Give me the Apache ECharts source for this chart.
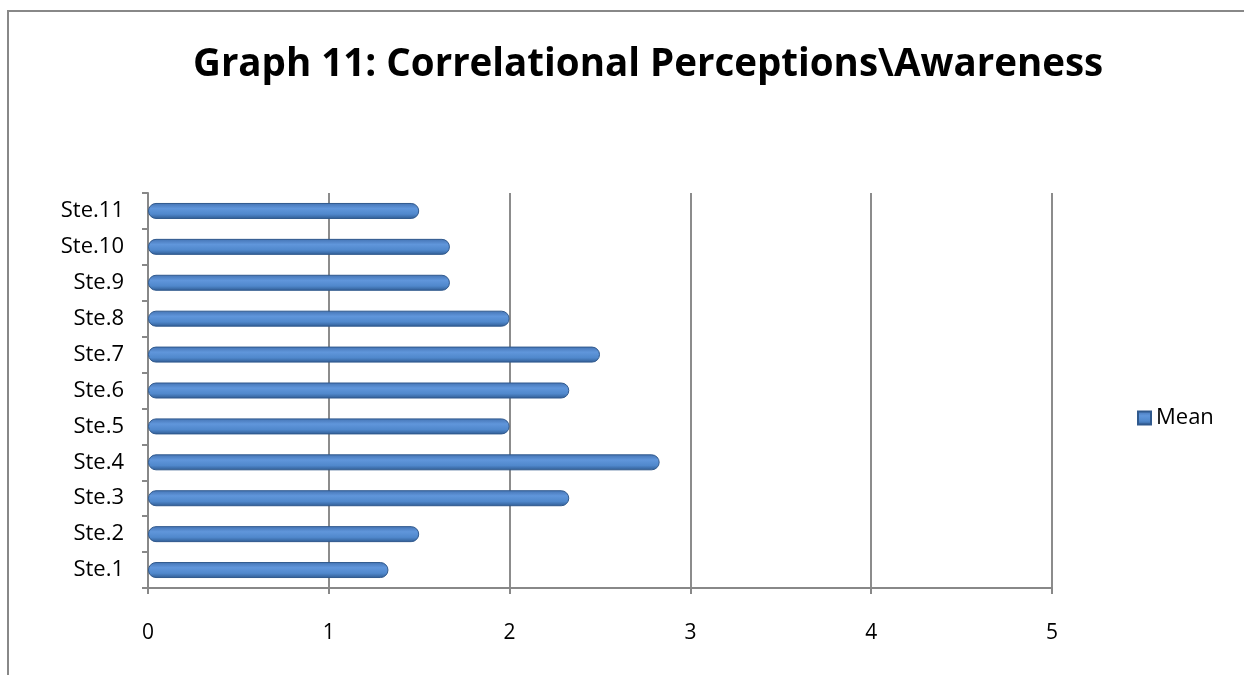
<!DOCTYPE html>
<html><head><meta charset="utf-8">
<script src="https://cdn.jsdelivr.net/npm/echarts@6/dist/echarts.min.js"></script>
<style>html,body{margin:0;padding:0;background:#fff}#c{width:1244px;height:675px}</style>
</head><body><div id="c"></div>
<script>
const categories = ['Ste.1','Ste.2','Ste.3','Ste.4','Ste.5','Ste.6','Ste.7','Ste.8','Ste.9','Ste.10','Ste.11'];
const meanValues = [1.33, 1.5, 2.33, 2.83, 2.0, 2.33, 2.5, 2.0, 1.67, 1.67, 1.5];
const xTicks = [0, 1, 2, 3, 4, 5];
const seriesName = 'Mean';

const chart = echarts.init(document.getElementById('c'));
chart.setOption({
  backgroundColor: '#fff',
  animation: false,
  title: {
    text: 'Graph 11: Correlational Perceptions\\Awareness',
    left: 188, top: 41,
    textStyle: { fontFamily: 'Open Sans', fontWeight: 'bold', fontSize: 38.5, color: '#000' }
  },
  legend: {
    data: [seriesName], left: 1132, top: 402, orient: 'vertical',
    icon: 'rect', itemWidth: 13, itemHeight: 13, itemGap: 4,
    textStyle: { fontFamily: 'Open Sans', fontSize: 22, color: '#000' }
  },
  grid: { left: 148, right: 192, top: 193, bottom: 87 },
  xAxis: {
    type: 'value', min: 0, max: 5, interval: 1,
    axisLine: { show: true, lineStyle: { color: '#888', width: 2 } },
    axisTick: { show: true, length: 6, lineStyle: { color: '#888', width: 2 } },
    axisLabel: { fontFamily: 'Open Sans', fontSize: 21, color: '#000', margin: 35,
      formatter: v => xTicks.includes(v) ? String(v) : '' },
    splitLine: { show: true, lineStyle: { color: '#8c8c8c', width: 2 } }
  },
  yAxis: {
    type: 'category', data: categories,
    axisLine: { show: true, lineStyle: { color: '#888', width: 2 } },
    axisTick: { show: true, length: 6, lineStyle: { color: '#888', width: 2 } },
    axisLabel: { fontFamily: 'Open Sans', fontSize: 22, color: '#000', margin: 24 }
  },
  series: [{
    name: seriesName, type: 'bar', data: meanValues, barWidth: 16,
    itemStyle: {
      borderRadius: [8, 8, 8, 8],
      color: new echarts.graphic.LinearGradient(0, 0, 0, 1, [
        { offset: 0, color: '#4473b3' },
        { offset: 0.35, color: '#6096db' },
        { offset: 0.7, color: '#5088cc' },
        { offset: 1, color: '#2f5b92' }
      ]),
      borderColor: '#30598d', borderWidth: 1
    }
  }],
  graphic: [
    { type: 'polyline', shape: { points: [[8, 675], [8, 11], [1244, 11]] },
      style: { stroke: '#888', lineWidth: 2, fill: null } }
  ]
});
</script></body></html>
